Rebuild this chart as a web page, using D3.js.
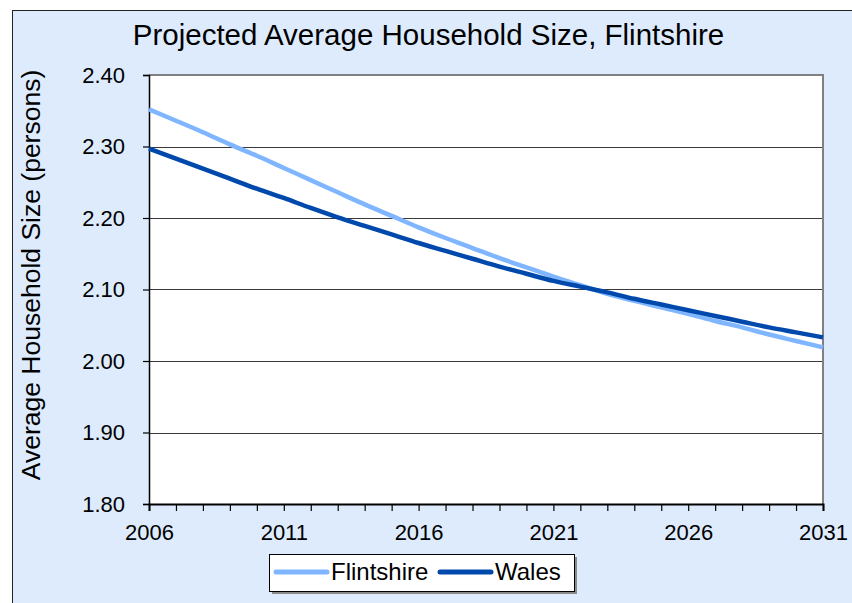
<!DOCTYPE html>
<html>
<head>
<meta charset="utf-8">
<script src="https://cdn.jsdelivr.net/npm/d3@7"></script>
<style>
  body { margin: 0; background: #ffffff; }
  text { font-family: "Liberation Sans", Arial, sans-serif; fill: #000; }
</style>
</head>
<body>
<div id="chart"></div>
<script>
// data
var years = [2006, 2007, 2008, 2009, 2010, 2011, 2012, 2013, 2014, 2015, 2016, 2017, 2018,
             2019, 2020, 2021, 2022, 2023, 2024, 2025, 2026, 2027, 2028, 2029, 2030, 2031];
var flintshire = [2.352, 2.336, 2.320, 2.303, 2.287, 2.270, 2.253, 2.236, 2.219, 2.203, 2.187, 2.172, 2.158,
                  2.144, 2.131, 2.118, 2.106, 2.094, 2.084, 2.075, 2.066, 2.056, 2.047, 2.037, 2.028, 2.019];
var wales = [2.297, 2.283, 2.269, 2.255, 2.241, 2.228, 2.214, 2.201, 2.189, 2.177, 2.165, 2.154, 2.143,
             2.132, 2.122, 2.112, 2.104, 2.096, 2.087, 2.079, 2.071, 2.063, 2.055, 2.047, 2.040, 2.033];
var yTicks = [1.8, 1.9, 2.0, 2.1, 2.2, 2.3, 2.4];
var xLabelYears = [2006, 2011, 2016, 2021, 2026, 2031];
var seriesNames = ["Flintshire", "Wales"];
var seriesColors = ["#7fb6ff", "#0049ac"];

var svgWidth = 852;
var svgHeight = 603;

// plot area
var plot = { left: 149, top: 75, right: 823, bottom: 504 };

var svg = d3.select("#chart")
  .append("svg")
  .attr("width", svgWidth)
  .attr("height", svgHeight);

// outer chart area (cropped at right and bottom)
svg.append("rect")
  .attr("x", 12.5)
  .attr("y", 10.5)
  .attr("width", svgWidth)
  .attr("height", svgHeight)
  .attr("fill", "#ddebfd")
  .attr("stroke", "#222")
  .attr("stroke-width", 1);

// title
svg.append("text")
  .attr("x", 428.5)
  .attr("y", 45)
  .attr("text-anchor", "middle")
  .style("font-size", "29.5px")
  .text("Projected Average Household Size, Flintshire");

var xScale = d3.scaleLinear()
  .domain([2006, 2031])
  .range([plot.left, plot.right]);

var yScale = d3.scaleLinear()
  .domain([1.8, 2.4])
  .range([plot.bottom, plot.top]);

// white plot background
svg.append("rect")
  .attr("x", plot.left)
  .attr("y", plot.top)
  .attr("width", plot.right - plot.left)
  .attr("height", plot.bottom - plot.top)
  .attr("fill", "#ffffff");

// gridlines
svg.append("g")
  .selectAll("line")
  .data(yTicks.slice(1, -1))
  .enter()
  .append("line")
  .attr("x1", plot.left)
  .attr("x2", plot.right)
  .attr("y1", d => Math.round(yScale(d)) + 0.5)
  .attr("y2", d => Math.round(yScale(d)) + 0.5)
  .attr("stroke", "#3a3a3a")
  .attr("stroke-width", 1);

// top and right border of plot area
svg.append("path")
  .attr("d", `M${plot.left},${plot.top} H${plot.right} V${plot.bottom}`)
  .attr("fill", "none")
  .attr("stroke", "#808080")
  .attr("stroke-width", 2);

// y axis
var leftAxis = d3.axisLeft(yScale)
  .tickValues(yTicks)
  .tickSize(6)
  .tickPadding(18)
  .tickFormat(d3.format(".2f"));

var yAxisGroup = svg.append("g")
  .attr("transform", `translate(${plot.left}, 0)`)
  .call(leftAxis);

yAxisGroup.select(".domain").attr("stroke", "#000").attr("stroke-width", 1.5);
yAxisGroup.selectAll(".tick line").attr("stroke", "#000").attr("stroke-width", 1.2);
yAxisGroup.selectAll(".tick text")
  .style("font-size", "22px")
  .style("font-family", "'Liberation Sans', Arial, sans-serif")
  .attr("fill", "#000");

// x axis, tick every year
var bottomAxis = d3.axisBottom(xScale)
  .tickValues(years)
  .tickSize(7)
  .tickPadding(13)
  .tickFormat(d => xLabelYears.indexOf(d) >= 0 ? d : "");

var xAxisGroup = svg.append("g")
  .attr("transform", `translate(0, ${plot.bottom})`)
  .call(bottomAxis);

xAxisGroup.select(".domain").attr("stroke", "#000").attr("stroke-width", 2);
xAxisGroup.selectAll(".tick line").attr("stroke", "#000").attr("stroke-width", 1.2);
xAxisGroup.selectAll(".tick text")
  .style("font-size", "22px")
  .style("font-family", "'Liberation Sans', Arial, sans-serif")
  .attr("fill", "#000");

// y axis title
svg.append("text")
  .attr("transform", "rotate(-90)")
  .attr("x", -275)
  .attr("y", 40)
  .attr("text-anchor", "middle")
  .style("font-size", "26.5px")
  .text("Average Household Size (persons)");

// lines
var line = d3.line()
  .x(d => xScale(d[0]))
  .y(d => yScale(d[1]))
  .curve(d3.curveMonotoneX);

var seriesValues = [flintshire, wales];

svg.append("g")
  .selectAll("path")
  .data(seriesValues)
  .enter()
  .append("path")
  .attr("d", vals => line(years.map((yr, i) => [yr, vals[i]])))
  .attr("fill", "none")
  .attr("stroke", (d, i) => seriesColors[i])
  .attr("stroke-width", 4.5)
  .attr("stroke-linejoin", "round");

// legend
var legend = svg.append("g");

legend.append("rect")
  .attr("x", 272)
  .attr("y", 557)
  .attr("width", 305)
  .attr("height", 37)
  .attr("fill", "#8a8a8a");

legend.append("rect")
  .attr("x", 269.5)
  .attr("y", 554.5)
  .attr("width", 305)
  .attr("height", 37)
  .attr("fill", "#ffffff")
  .attr("stroke", "#000")
  .attr("stroke-width", 1);

var legendX = [276, 440];

seriesNames.forEach(function(name, i) {
  legend.append("line")
    .attr("x1", legendX[i])
    .attr("x2", legendX[i] + 51)
    .attr("y1", 572)
    .attr("y2", 572)
    .attr("stroke", seriesColors[i])
    .attr("stroke-width", 5)
    .attr("stroke-linecap", "round");

  legend.append("text")
    .attr("x", legendX[i] + 55)
    .attr("y", 580)
    .style("font-size", "24px")
    .text(name);
});
</script>
</body>
</html>
